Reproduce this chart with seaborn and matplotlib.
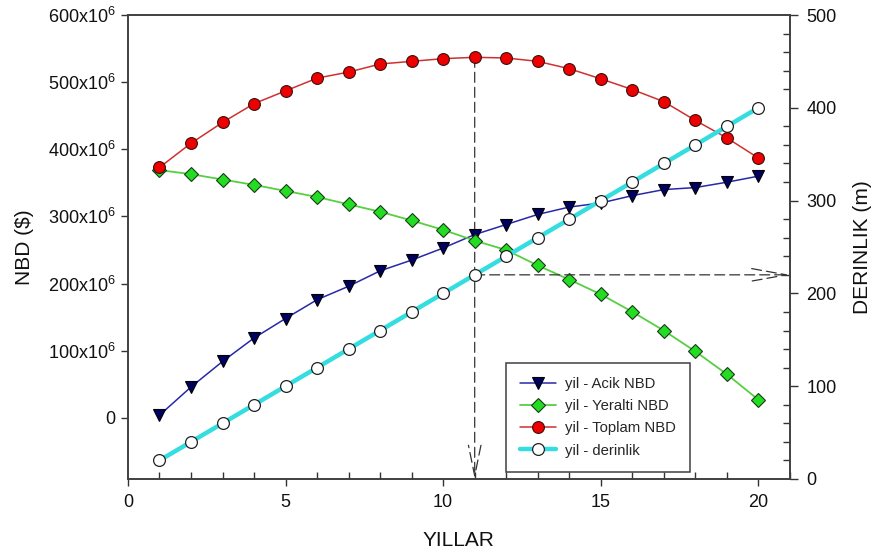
import matplotlib
matplotlib.use("Agg")
import matplotlib.pyplot as plt
import seaborn as sns
import numpy as np
import pandas as pd
from matplotlib.ticker import FuncFormatter, MultipleLocator

# ---- data ----
yil = [1, 2, 3, 4, 5, 6, 7, 8, 9, 10, 11, 12, 13, 14, 15, 16, 17, 18, 19, 20]
acik_nbd = [4e6, 46e6, 84e6, 119e6, 148e6, 176e6, 196e6, 219e6, 235e6, 253e6,
            273e6, 288e6, 303e6, 314e6, 320e6, 331e6, 340e6, 343e6, 351e6, 360e6]
yeralti_nbd = [369e6, 363e6, 355e6, 347e6, 338e6, 329e6, 318e6, 307e6, 294e6, 280e6,
               264e6, 250e6, 227e6, 206e6, 184e6, 158e6, 130e6, 99e6, 65e6, 27e6]
toplam_nbd = [373e6, 409e6, 440e6, 468e6, 487e6, 506e6, 515e6, 527e6, 531e6, 535e6,
              537e6, 536e6, 531e6, 520e6, 505e6, 489e6, 471e6, 443e6, 417e6, 387e6]
derinlik = [20, 40, 60, 80, 100, 120, 140, 160, 180, 200,
            220, 240, 260, 280, 300, 320, 340, 360, 380, 400]
series_labels = ["yil - Acik NBD", "yil - Yeralti NBD", "yil - Toplam NBD", "yil - derinlik"]
secim_yil = 11          # highlighted year
secim_derinlik = 220    # depth at highlighted year

df = pd.DataFrame({"yil": yil, "acik": acik_nbd, "yeralti": yeralti_nbd,
                   "toplam": toplam_nbd, "derinlik": derinlik})

sns.set_style("ticks")
plt.rcParams["font.family"] = ["Liberation Sans", "DejaVu Sans"]

fig = plt.figure(figsize=(8.77, 5.58), dpi=100)
ax = fig.add_axes([0.1459, 0.1416, 0.7548, 0.8315])
ax2 = ax.twinx()

ms = 8.5
sns.lineplot(data=df, x="yil", y="acik", ax=ax, color="#2828a8", lw=1.1,
             marker="v", markersize=ms, markerfacecolor="#000060",
             markeredgecolor="#000000", markeredgewidth=0.8, label=series_labels[0], legend=False)
sns.lineplot(data=df, x="yil", y="yeralti", ax=ax, color="#55d040", lw=1.3,
             marker="D", markersize=ms - 1, markerfacecolor="#22dd22",
             markeredgecolor="#1a3a1a", markeredgewidth=0.8, label=series_labels[1], legend=False)
sns.lineplot(data=df, x="yil", y="toplam", ax=ax, color="#d03030", lw=1.1,
             marker="o", markersize=ms, markerfacecolor="#ee0000",
             markeredgecolor="#3a1010", markeredgewidth=0.8, label=series_labels[2], legend=False)
sns.lineplot(data=df, x="yil", y="derinlik", ax=ax2, color="#33dde0", lw=3.2,
             marker="o", markersize=ms, markerfacecolor="white",
             markeredgecolor="#222222", markeredgewidth=0.9, label=series_labels[3], legend=False)

ax.set_xlim(0, 21)
ax.set_ylim(-91e6, 600e6)
ax2.set_ylim(0, 500)

ax.xaxis.set_major_locator(MultipleLocator(5))
ax.xaxis.set_minor_locator(MultipleLocator(1))
ax.yaxis.set_major_locator(MultipleLocator(100e6))
ax2.yaxis.set_major_locator(MultipleLocator(100))
ax2.yaxis.set_minor_locator(MultipleLocator(20))

def nbd_fmt(v, pos):
    n = int(round(v / 1e6))
    if n == 0:
        return "0"
    return f"{n}x10$\\mathregular{{^6}}$"

ax.yaxis.set_major_formatter(FuncFormatter(nbd_fmt))

tick_col = "#333333"
for a in (ax, ax2):
    for s in a.spines.values():
        s.set_color("#404040")
        s.set_linewidth(1.2)
ax.tick_params(axis="both", which="major", direction="out", length=5, width=1,
               color=tick_col, labelsize=13, labelcolor="#111111")
ax.tick_params(axis="x", which="minor", direction="in", length=5, width=1, color=tick_col)
ax.tick_params(axis="x", which="major", pad=6)
ax.tick_params(axis="y", which="major", pad=4)
ax2.tick_params(axis="y", which="major", direction="out", length=6, width=1,
                color=tick_col, labelsize=13, labelcolor="#111111", pad=6)
ax2.tick_params(axis="y", which="minor", direction="in", length=5, width=1, color=tick_col)

ax.set_xlabel("YILLAR", fontsize=15, labelpad=14, color="#111111")
ax.set_ylabel("NBD ($)", fontsize=15, labelpad=10, color="#111111")
ax2.set_ylabel("DERINLIK (m)", fontsize=15, labelpad=12, color="#111111")

# dashed guide arrows
dash = (0, (8, 4))
top_val = toplam_nbd[yil.index(secim_yil)]
ax.annotate("", xy=(secim_yil, -91e6), xytext=(secim_yil, top_val),
            arrowprops=dict(arrowstyle="->,head_length=2.2,head_width=0.45",
                            linestyle=dash, color="#333333", lw=0.9,
                            shrinkA=0, shrinkB=0, mutation_scale=10),
            zorder=1)
ax2.annotate("", xy=(21, secim_derinlik), xytext=(secim_yil, secim_derinlik),
             arrowprops=dict(arrowstyle="->,head_length=2.5,head_width=0.45",
                             linestyle=dash, color="#333333", lw=0.9,
                             shrinkA=0, shrinkB=0, mutation_scale=10),
             zorder=1)

h1, l1 = ax.get_legend_handles_labels()
h2, l2 = ax2.get_legend_handles_labels()
leg = ax2.legend(h1 + h2, l1 + l2, loc="upper left", bbox_to_anchor=(0.571, 0.25),
                 fontsize=10.7, frameon=True, fancybox=False, framealpha=1,
                 edgecolor="#404040", handlelength=2.4, labelspacing=0.55,
                 borderpad=0.95, handletextpad=0.6, borderaxespad=0)
leg.get_frame().set_linewidth(1.1)

fig.savefig("out.png", dpi=100)
